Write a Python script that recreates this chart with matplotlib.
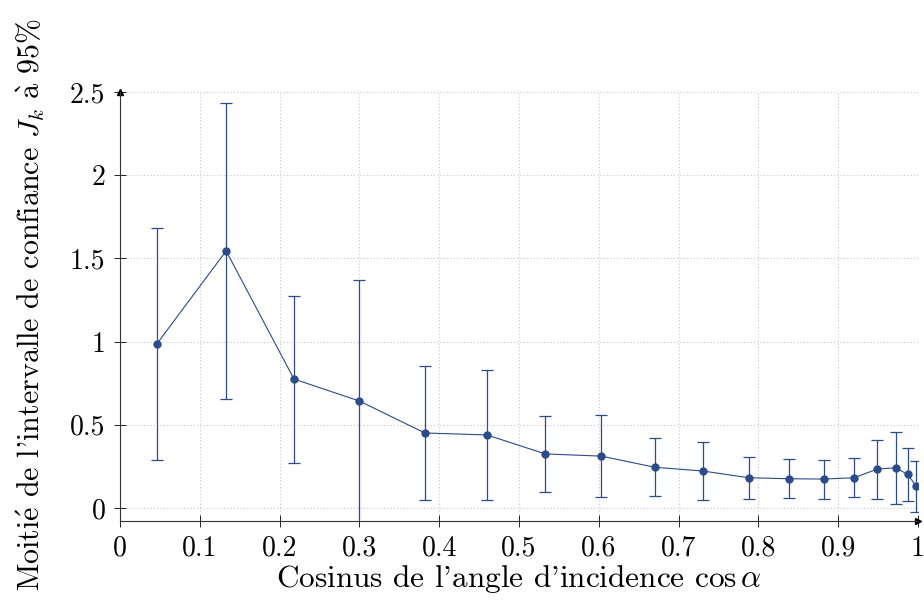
import numpy as np
import matplotlib.pyplot as plt

plt.rcParams['font.family'] = ['cmr10', 'DejaVu Serif']
plt.rcParams['mathtext.fontset'] = 'cm'
plt.rcParams['axes.formatter.use_mathtext'] = True

# cos(alpha) des classes et demi-intervalle J_k
cos_alpha = [0.046, 0.133, 0.218, 0.300, 0.382, 0.460, 0.533, 0.603, 0.670,
             0.731, 0.788, 0.838, 0.882, 0.920, 0.949, 0.972, 0.987, 0.998]
J_k = [0.985, 1.545, 0.775, 0.643, 0.451, 0.439, 0.325, 0.312, 0.245,
       0.222, 0.182, 0.176, 0.174, 0.182, 0.234, 0.242, 0.202, 0.130]
err = [0.696, 0.889, 0.502, 0.727, 0.402, 0.393, 0.230, 0.246, 0.175,
       0.172, 0.125, 0.116, 0.117, 0.116, 0.177, 0.215, 0.161, 0.152]

xticks = [0, 0.1, 0.2, 0.3, 0.4, 0.5, 0.6, 0.7, 0.8, 0.9, 1]
xlabels = ['0', '0.1', '0.2', '0.3', '0.4', '0.5', '0.6', '0.7', '0.8', '0.9', '1']
yticks = [0, 0.5, 1, 1.5, 2, 2.5]
ylabels = ['0', '0.5', '1', '1.5', '2', '2.5']

couleur = '#2b4b8a'

fig = plt.figure(figsize=(9.24, 6), dpi=100)
ax = fig.add_axes([120/924, 1 - 521/600, 798/924, 429/600])

ax.errorbar(cos_alpha, J_k, yerr=err, color=couleur, marker='o', markersize=5,
            linewidth=0.8, elinewidth=0.9, capsize=4, capthick=0.9)

ax.set_xlim(0, 1)
ax.set_ylim(-0.078, 2.5)
ax.set_xticks(xticks)
ax.set_xticklabels(xlabels)
ax.set_yticks(yticks)
ax.set_yticklabels(ylabels)
ax.tick_params(direction='inout', length=9, width=0.6, labelsize=20, pad=6)
ax.grid(True, linestyle=(0, (1, 2)), color='#c8c8c8', linewidth=0.8)

for s in ['top', 'right']:
    ax.spines[s].set_visible(False)
for s in ['left', 'bottom']:
    ax.spines[s].set_linewidth(0.8)
    ax.spines[s].set_color('#333333')

# fleches des axes
ax.plot(1, 0, marker='>', color='k', markersize=5, transform=ax.transAxes, clip_on=False)
ax.plot(0, 1, marker='^', color='k', markersize=5, transform=ax.transAxes, clip_on=False)

ax.set_xlabel("Cosinus de l'angle d'incidence $\\cos\\alpha$", fontsize=22.5)
ax.set_ylabel("Moiti$\\mathrm{\\acute{e}}$ de l'intervalle de confiance $J_k$ "
              "$\\mathrm{\\grave{a}}$ 95%", fontsize=21.6)
ax.xaxis.set_label_coords(0.5, -0.098)
ax.yaxis.set_label_coords(-0.092, 0.505)

fig.savefig('out.png', dpi=100)
